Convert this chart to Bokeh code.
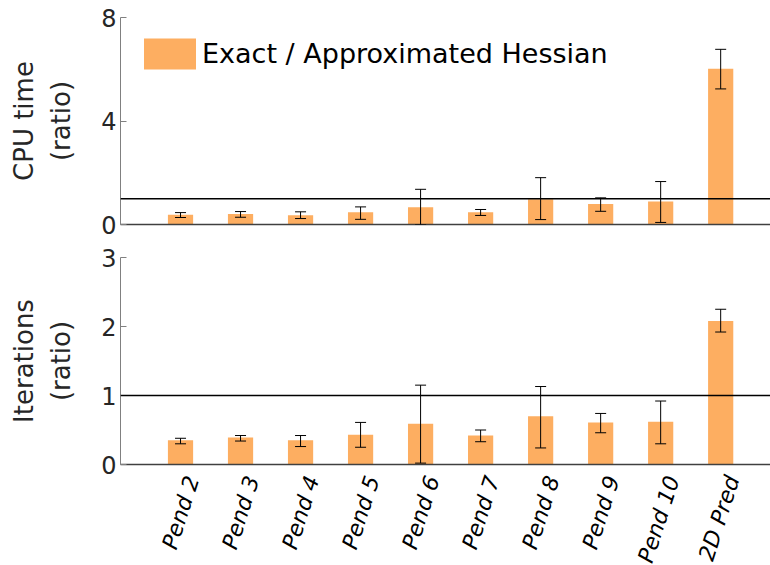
import math
from bokeh.plotting import figure
from bokeh.layouts import column
from bokeh.models import ColumnDataSource, Whisker, TeeHead, Span, FixedTicker, Range1d, Legend, LegendItem
from bokeh.embed import file_html
from bokeh.resources import INLINE

categories = ["Pend 2", "Pend 3", "Pend 4", "Pend 5", "Pend 6", "Pend 7", "Pend 8", "Pend 9", "Pend 10", "2D Pred"]
cpu_mean = [0.38, 0.41, 0.36, 0.47, 0.67, 0.47, 0.98, 0.79, 0.89, 6.02]
cpu_upper = [0.46, 0.50, 0.49, 0.68, 1.36, 0.58, 1.81, 1.03, 1.66, 6.77]
cpu_lower = [0.27, 0.28, 0.23, 0.20, 0.00, 0.35, 0.19, 0.51, 0.08, 5.24]
it_mean = [0.35, 0.39, 0.35, 0.43, 0.59, 0.42, 0.70, 0.61, 0.62, 2.08]
it_upper = [0.38, 0.42, 0.42, 0.61, 1.15, 0.50, 1.13, 0.74, 0.92, 2.25]
it_lower = [0.30, 0.34, 0.26, 0.25, 0.02, 0.33, 0.24, 0.46, 0.30, 1.92]
cpu_ticks = [0, 4, 8]
it_ticks = [0, 1, 2, 3]

BAR = "#FDAE61"
FONT = "DejaVu Sans"
xs = list(range(1, len(categories) + 1))
XEND = 10.83


def style(p, ticks):
    p.outline_line_color = None
    p.xgrid.visible = False
    p.ygrid.visible = False
    p.yaxis.ticker = FixedTicker(ticks=ticks)
    p.yaxis.minor_tick_line_color = None
    p.yaxis.major_tick_in = 6
    p.yaxis.major_tick_out = 0
    p.yaxis.axis_line_color = "#808080"
    p.yaxis.major_tick_line_color = "#808080"
    p.yaxis.major_label_text_font = FONT
    p.yaxis.major_label_text_font_size = "24px"
    p.yaxis.major_label_text_color = "#262626"
    p.yaxis.major_label_standoff = 4
    p.yaxis.axis_label_text_font = FONT
    p.yaxis.axis_label_text_font_size = "26px"
    p.yaxis.axis_label_text_font_style = "normal"
    p.yaxis.axis_label_text_color = "#262626"
    p.yaxis.axis_label_text_line_height = 1.25
    p.yaxis.axis_label_standoff = 22
    p.xaxis.ticker = FixedTicker(ticks=xs)
    p.xaxis.major_tick_line_color = None
    p.xaxis.minor_tick_line_color = None
    p.xaxis.axis_line_color = "#404040"
    p.xaxis.axis_line_width = 1.5


def panel(mean, upper, lower, ticks, ymax, label, top, bottom):
    src = ColumnDataSource(dict(x=xs, top=mean, upper=upper, lower=lower))
    p = figure(width=770, frame_height=207, output_backend="svg", toolbar_location=None,
               x_range=Range1d(0, XEND), y_range=Range1d(0, ymax),
               min_border_left=120, min_border_right=0, min_border_top=top, min_border_bottom=bottom)
    r = p.vbar(x="x", top="top", width=0.42, source=src, fill_color=BAR, line_color=None)
    p.add_layout(Span(location=1, dimension="width", line_color="black", line_width=1.5))
    p.add_layout(Whisker(base="x", upper="upper", lower="lower", source=src, dimension="height",
                         line_color="black", line_width=1, level="overlay",
                         upper_head=TeeHead(size=11, line_color="black", line_width=1),
                         lower_head=TeeHead(size=11, line_color="black", line_width=1)))
    style(p, ticks)
    p.yaxis.axis_label = label
    return p, r


p1, r1 = panel(cpu_mean, cpu_upper, cpu_lower, cpu_ticks, 8, "CPU time\n(ratio)", 17, 16)
p1.xaxis.major_label_text_font_size = "0px"
p1.xaxis.major_label_text_color = None
legend = Legend(items=[LegendItem(label="Exact / Approximated Hessian", renderers=[r1])],
                location="top_left", margin=17, padding=0, glyph_width=65, glyph_height=39,
                label_standoff=0, border_line_color=None, background_fill_alpha=0,
                label_text_font=FONT, label_text_font_size="27px", label_text_color="black")
p1.add_layout(legend)

p2, r2 = panel(it_mean, it_upper, it_lower, it_ticks, 3, "Iterations\n(ratio)", 17, 0)
# category labels sit a little right of their bars, as in the reference
p2.extra_x_ranges = {"lab": Range1d(-0.2, XEND - 0.2)}
ax = p2.xaxis[0]
ax.x_range_name = "lab"
ax.major_label_overrides = {x: c for x, c in zip(xs, categories)}
ax.major_label_orientation = math.radians(72)
ax.major_label_text_font = FONT
ax.major_label_text_font_size = "22px"
ax.major_label_text_font_style = "italic"
ax.major_label_text_color = "black"
ax.major_label_standoff = 6

layout = column(p1, p2, spacing=0)
html = file_html(layout, INLINE)
# the slanted labels run to the bottom edge of the window, as in the reference: no scrollbars
html = html.replace("<head>", "<head><style>html, body { overflow: hidden; }</style>", 1)
open("out.html", "w").write(html)
